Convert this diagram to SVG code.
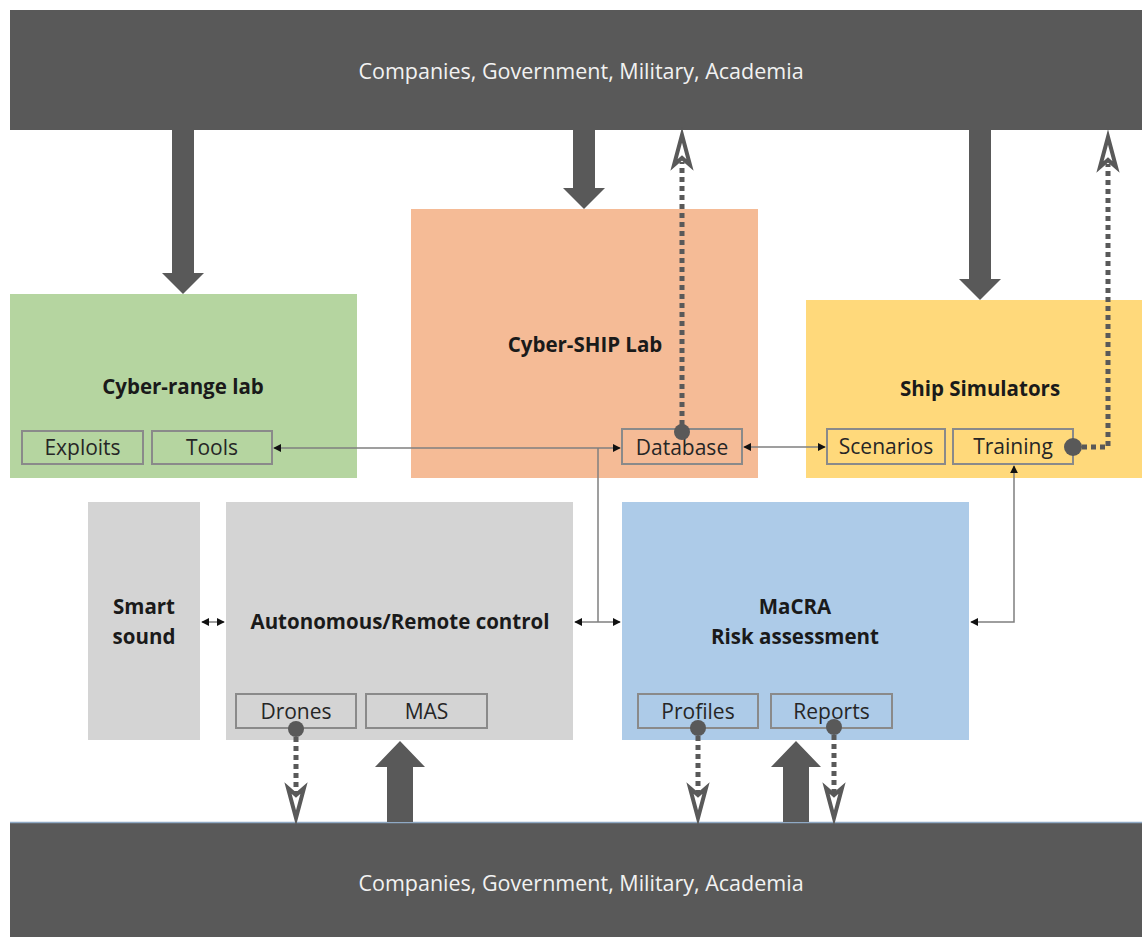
<svg xmlns="http://www.w3.org/2000/svg" width="1142" height="937" viewBox="0 0 1142 937">
<defs>
<style>
.bar{fill:#595959}
.bartxt{font-family:"Open Sans","Noto Sans",sans-serif;font-size:21.5px;fill:#f2f2f2;text-anchor:middle}
.title{font-family:"Open Sans","Noto Sans",sans-serif;font-size:20.5px;font-weight:bold;fill:#1a1a1a;text-anchor:middle}
.sub{fill:none;stroke:#8a8a8a;stroke-width:2}
.subtxt{font-family:"Open Sans","Noto Sans",sans-serif;font-size:21px;fill:#262626;text-anchor:middle}
.thin{fill:none;stroke:#7f7f7f;stroke-width:1.5}
.dot{fill:none;stroke:#595959;stroke-width:5;stroke-dasharray:5 4}
.dotend{fill:#595959}
.ohead{fill:none;stroke:#595959;stroke-width:4;stroke-linejoin:miter}
.big{fill:#595959}
</style>
<marker id="ah" viewBox="0 0 10 10" refX="9" refY="5" markerWidth="8" markerHeight="8" markerUnits="userSpaceOnUse" orient="auto-start-reverse">
<path d="M0,0 L10,5 L0,10 Z" fill="#111"/>
</marker>
</defs>

<g id="top-bar">
<rect class="bar" x="10" y="10" width="1132" height="120"/>
<text class="bartxt" x="581" y="79">Companies, Government, Military, Academia</text>
</g>

<g id="bottom-bar">
<rect class="bar" x="10" y="822" width="1132" height="115"/>
<line x1="10" y1="822.5" x2="1142" y2="822.5" stroke="#8fa9c4" stroke-width="1.5"/>
<text class="bartxt" x="581" y="891">Companies, Government, Military, Academia</text>
</g>

<g id="cyber-range-lab">
<rect x="10" y="294" width="347" height="184" fill="#b5d5a0"/>
<text class="title" x="183" y="394">Cyber-range lab</text>
<rect class="sub" x="22" y="431" width="121" height="33"/>
<text class="subtxt" x="82.5" y="455">Exploits</text>
<rect class="sub" x="152" y="431" width="120" height="33"/>
<text class="subtxt" x="212" y="455">Tools</text>
</g>

<g id="cyber-ship-lab">
<rect x="411" y="209" width="347" height="269" fill="#f5bb96"/>
<text class="title" x="585" y="352">Cyber-SHIP Lab</text>
<rect class="sub" x="622" y="429" width="120" height="35"/>
<text class="subtxt" x="682" y="455">Database</text>
</g>

<g id="ship-simulators">
<rect x="806" y="300" width="336" height="178" fill="#ffd97b"/>
<text class="title" x="980" y="396">Ship Simulators</text>
<rect class="sub" x="827" y="429" width="118" height="35"/>
<text class="subtxt" x="886" y="454">Scenarios</text>
<rect class="sub" x="953" y="429" width="120" height="35"/>
<text class="subtxt" x="1013" y="454">Training</text>
</g>

<g id="smart-sound">
<rect x="88" y="502" width="112" height="238" fill="#d4d4d4"/>
<text class="title" x="144" y="614">Smart</text>
<text class="title" x="144" y="644">sound</text>
</g>

<g id="autonomous-remote-control">
<rect x="226" y="502" width="347" height="238" fill="#d4d4d4"/>
<text class="title" x="400" y="629">Autonomous/Remote control</text>
<rect class="sub" x="236" y="694" width="120" height="34"/>
<text class="subtxt" x="296" y="719">Drones</text>
<rect class="sub" x="366" y="694" width="121" height="34"/>
<text class="subtxt" x="426.5" y="719">MAS</text>
</g>

<g id="macra">
<rect x="622" y="502" width="347" height="238" fill="#adcbe8"/>
<text class="title" x="795" y="614">MaCRA</text>
<text class="title" x="795" y="644">Risk assessment</text>
<rect class="sub" x="638" y="694" width="120" height="34"/>
<text class="subtxt" x="698" y="719">Profiles</text>
<rect class="sub" x="771" y="694" width="121" height="34"/>
<text class="subtxt" x="831.5" y="719">Reports</text>
</g>

<g id="connectors">
<path class="big" d="M172,130 L194,130 L194,273 L204,273 L183,294 L162,273 L172,273 Z"/>
<path class="big" d="M573,130 L595,130 L595,188 L605,188 L584,209 L563,188 L573,188 Z"/>
<path class="big" d="M969,130 L991,130 L991,279 L1001,279 L980,300 L959,279 L969,279 Z"/>
<path class="big" d="M387,822 L413,822 L413,767 L425,767 L400,741 L375,767 L387,767 Z"/>
<path class="big" d="M783,822 L809,822 L809,767 L821,767 L796,741 L771,767 L783,767 Z"/>

<line class="thin" x1="274" y1="448" x2="620" y2="448" marker-start="url(#ah)" marker-end="url(#ah)"/>
<polyline class="thin" points="598,448 598,622"/>
<line class="thin" x1="575" y1="622" x2="620" y2="622" marker-start="url(#ah)" marker-end="url(#ah)"/>
<line class="thin" x1="744" y1="447" x2="825" y2="447" marker-start="url(#ah)" marker-end="url(#ah)"/>
<line class="thin" x1="202" y1="622" x2="224" y2="622" marker-start="url(#ah)" marker-end="url(#ah)"/>
<polyline class="thin" points="1014,466 1014,622 971,622" marker-start="url(#ah)" marker-end="url(#ah)"/>

<circle class="dotend" cx="682" cy="432" r="8"/>
<line class="dot" x1="682" y1="425" x2="682" y2="162"/>
<path class="ohead" d="M682,135 L674,165 L682,158 L690,165 Z"/>

<circle class="dotend" cx="1073" cy="447" r="9"/>
<polyline class="dot" points="1082,447 1108,447 1108,164"/>
<path class="ohead" d="M1108,137 L1100,167 L1108,160 L1116,167 Z"/>

<circle class="dotend" cx="296" cy="729" r="8"/>
<line class="dot" x1="296" y1="737" x2="296" y2="794"/>
<path class="ohead" d="M296,818 L288,788 L296,795 L304,788 Z"/>

<circle class="dotend" cx="698" cy="728" r="8"/>
<line class="dot" x1="698" y1="736" x2="698" y2="794"/>
<path class="ohead" d="M698,818 L690,788 L698,795 L706,788 Z"/>

<circle class="dotend" cx="834" cy="727" r="8"/>
<line class="dot" x1="834" y1="735" x2="834" y2="794"/>
<path class="ohead" d="M834,818 L826,788 L834,795 L842,788 Z"/>
</g>
</svg>
